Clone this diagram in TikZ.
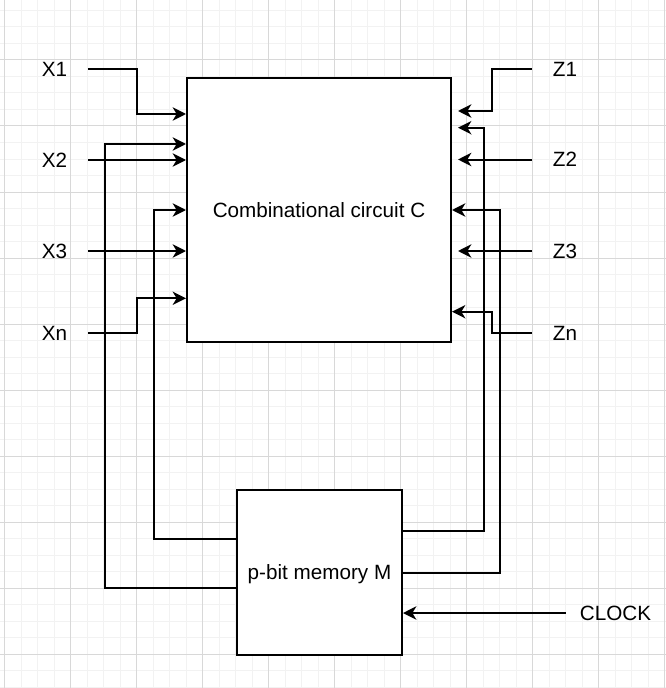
\documentclass[tikz,border=0pt]{standalone}
\usepackage{fontspec}
\setmainfont{Liberation Sans}
\usepackage{xcolor}
\usetikzlibrary{arrows.meta}
\definecolor{gridminor}{RGB}{242,242,242}
\definecolor{gridmajor}{RGB}{216,216,216}
\tikzset{
  block/.style={draw, line width=1.5pt, fill=white, inner sep=0pt,
                text depth=0pt, font=\fontsize{15.5}{18}\selectfont},
  lbl/.style={inner sep=0pt, minimum width=49.5pt, font=\fontsize{15.5}{18}\selectfont},
  wire/.style={line width=1.5pt},
  arrow/.style={wire, -{Stealth[length=10pt, width=10pt, inset=3pt]}},
  gaparrow/.style={arrow, shorten >=4.5pt},
}

\begin{document}
\begin{tikzpicture}[x=0.75pt, y=-0.75pt]
  \useasboundingbox (0,0) rectangle (666,688);

  % Grid
  \foreach \i in {-4,...,36}
    \draw[gridminor, line width=0.75pt] ({70.7+16.5*\i},0) -- ({70.7+16.5*\i},688);
  \foreach \j in {-3,...,38}
    \draw[gridminor, line width=0.75pt] (0,{60+16.5*\j}) -- (666,{60+16.5*\j});
  \foreach \i in {-1,...,9}
    \draw[gridmajor, line width=0.75pt] ({70.7+66*\i},0) -- ({70.7+66*\i},688);
  \foreach \j in {0,...,9}
    \draw[gridmajor, line width=0.75pt] (0,{60+66*\j}) -- (666,{60+66*\j});

  % Blocks
  \node[block, minimum width=198pt, minimum height=198pt] (C) at (319,210) {Combinational circuit C};
  \node[block, minimum width=123.75pt, minimum height=123.75pt] (M) at (319.5,572.5) {p-bit memory M};

  % Labels
  \node[lbl] (X1) at (54.5,69.5) {X1};
  \node[lbl] (X2) at (54.5,160) {X2};
  \node[lbl] (X3) at (54.5,251) {X3};
  \node[lbl] (Xn) at (54.5,333) {Xn};
  \node[lbl] (Z1) at (565,69.5) {Z1};
  \node[lbl] (Z2) at (565,159.5) {Z2};
  \node[lbl] (Z3) at (565,251) {Z3};
  \node[lbl] (Zn) at (565,333) {Zn};
  \node[lbl, minimum width=74.25pt] (CLK) at (615.5,613) {CLOCK};

  % Inputs
  \draw[arrow] (X1.east) -| (137.3,114) -- (C.west |- 0,114);
  \draw[arrow] (X2.east) -- (C.west |- X2.east);
  \draw[arrow] (X3.east) -- (C.west |- X3.east);
  \draw[arrow] (Xn.east) -| (137.3,298.3) -- (C.west |- 0,298.3);

  % Feedback, left
  \draw[arrow] (M.west |- 0,588) -| (104.5,144) -- (C.west |- 0,144);
  \draw[arrow] (M.west |- 0,539) -| (154.3,210) -- (C.west);

  % Outputs
  \draw[gaparrow] (Z1.west) -| (491.7,111) -- (C.east |- 0,111);
  \draw[gaparrow] (Z2.west) -- (C.east |- Z2.west);
  \draw[gaparrow] (Z3.west) -- (C.east |- Z3.west);
  \draw[arrow] (Zn.west) -| (491.7,311.7) -- (C.east |- 0,311.7);

  % Feedback, right
  \draw[gaparrow] (M.east |- 0,531) -| (484,127.7) -- (C.east |- 0,127.7);
  \draw[arrow] (M.east |- 0,572.7) -| (500,210) -- (C.east);

  % Clock
  \draw[arrow] (CLK.west) -- (M.east |- CLK.west);
\end{tikzpicture}
\end{document}
